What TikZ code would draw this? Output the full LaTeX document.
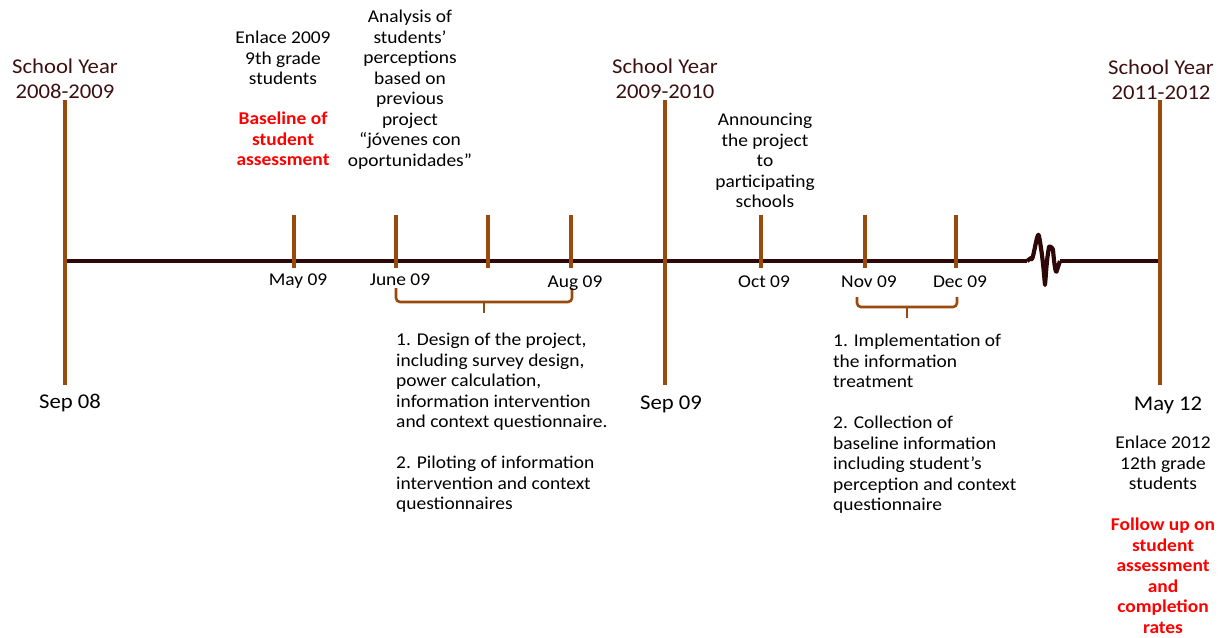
\documentclass[tikz,border=0pt]{standalone}
\usepackage{fontspec}
\setmainfont{Carlito}[FakeStretch=1.08]
\definecolor{axisc}{HTML}{2E0808}
\definecolor{tickc}{HTML}{9B4A0D}
\definecolor{syear}{HTML}{3C1010}
\definecolor{redc}{HTML}{FF0000}
\tikzset{
  axisline/.style={axisc, line width=3.8pt},
  bigline/.style={tickc, line width=4pt},
  tickline/.style={tickc, line width=3.6pt},
  bracel/.style={tickc, line width=2.6pt, rounded corners=4pt},
  txt/.style={font=\fontsize{18}{20.5}\selectfont, inner sep=0pt, align=center},
  txtl/.style={font=\fontsize{18}{20.5}\selectfont, inner sep=0pt, align=left, anchor=north west},
  redtxt/.style={txt, text=redc, font=\fontsize{18}{20.5}\selectfont\bfseries},
  sytxt/.style={font=\fontsize{21}{24.5}\selectfont, inner sep=0pt, align=center, text=syear, anchor=north},
  bigdate/.style={font=\fontsize{21}{24}\selectfont, inner sep=0pt, anchor=base},
  month/.style={font=\fontsize{18}{20}\selectfont, inner sep=0pt, anchor=base},
}
\begin{document}
\begin{tikzpicture}[x=1pt, y=-1pt]
\useasboundingbox (0,0) rectangle (1222,637);
% axis
\coordinate (axL) at (65,261);
\coordinate (axR) at (1160,261);
\coordinate (brkL) at (1027,261);
\coordinate (brkR) at (1060,261);
\draw[axisline] (axL) -- (brkL);
\draw[axisline, line width=4.2pt, line join=round] (brkL) -- (1031,258) to[out=-80,in=100] (1039,236) to[out=-80,in=95] (1045,285) to[out=85,in=-100] (1049,247) to[out=80,in=95] (1053,250) to[out=-85,in=-100] (1057,270) -- (brkR);
\draw[axisline] (brkR) -- (axR);
% big vertical lines
\foreach \n/\x in {a/65, b/665, c/1160} {
  \coordinate (big\n T) at (\x,100);
  \coordinate (big\n B) at (\x,385);
  \draw[bigline] (big\n T) -- (big\n B);
}
% ticks
\foreach \n/\x in {may/294, jun/396, jul/488, aug/571, oct/761, nov/865, dec/956} {
  \coordinate (t\n T) at (\x,215);
  \coordinate (t\n B) at (\x,268);
  \draw[tickline] (t\n T) -- (t\n B);
}
% braces
\coordinate (b1L) at (396,288);
\coordinate (b1R) at (572,288);
\coordinate (b1M) at (484,302);
\coordinate (b1E) at (484,313);
\draw[bracel] (b1L) -- (396,302) -- (572,302) -- (b1R);
\draw[bracel] (b1M) -- (b1E);
\coordinate (b2L) at (857,297);
\coordinate (b2R) at (957,297);
\coordinate (b2M) at (907,307);
\coordinate (b2E) at (907,318);
\draw[bracel] (b2L) -- (857,307) -- (957,307) -- (b2R);
\draw[bracel] (b2M) -- (b2E);
% school years
\node[sytxt] (sy1) at (65,59) {School Year\\2008-2009};
\node[sytxt] (sy2) at (665,59) {School Year\\2009-2010};
\node[sytxt] (sy3) at (1161,60) {School Year\\2011-2012};
% big dates
\node[bigdate] (sep08) at (70,408) {Sep 08};
\node[bigdate] (sep09) at (671,409) {Sep 09};
\node[bigdate] (may12) at (1168,410) {May 12};
% months
\node[month] (lmay) at (298,285) {May 09};
\node[month] (ljun) at (400,285) {June 09};
\node[month] (laug) at (575,287) {Aug 09};
\node[month] (loct) at (764,287) {Oct 09};
\node[month] (lnov) at (869,287) {Nov 09};
\node[month] (ldec) at (960,287) {Dec 09};
% upper texts
\node[txt, anchor=north] (enl09) at (283,31) {Enlace 2009\\9th grade\\students};
\node[redtxt, anchor=north] (base09) at (283,112) {Baseline of\\student\\assessment};
\node[txt, anchor=north] (analysis) at (410,10) {Analysis of\\students’\\perceptions\\based on\\previous\\project\\“jóvenes con\\oportunidades”};
\node[txt, anchor=north] (announce) at (765,113) {Announcing\\the project\\to\\participating\\schools};
% lower texts
\node[txtl] (design) at (396,333) {1. Design of the project,\\including survey design,\\power calculation,\\information intervention\\and context questionnaire.\\[20.5pt]2. Piloting of information\\intervention and context\\questionnaires};
\node[txtl] (impl) at (833,334) {1. Implementation of\\the information\\treatment\\[20.5pt]2. Collection of\\baseline information\\including student’s\\perception and context\\questionnaire};
\node[txt, anchor=north] (enl12) at (1163,436) {Enlace 2012\\12th grade\\students};
\node[redtxt, anchor=north] (follow) at (1163,518) {Follow up on\\student\\assessment\\and\\completion\\rates};
\end{tikzpicture}
\end{document}
